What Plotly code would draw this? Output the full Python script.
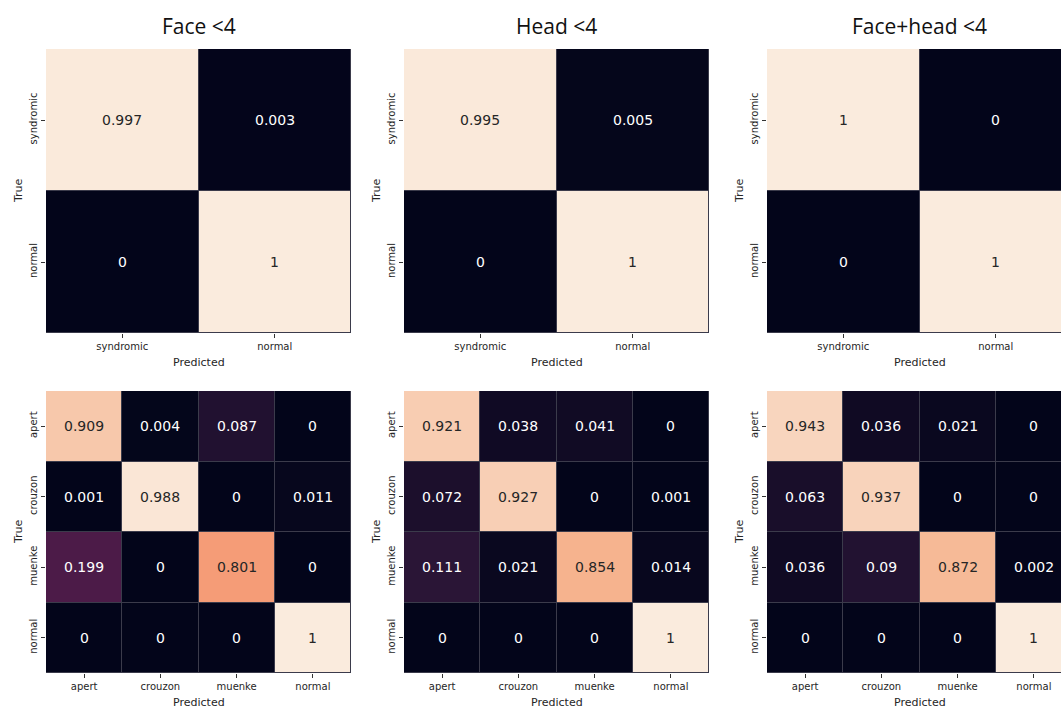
import plotly.graph_objects as go

W, H = 1061, 709

# ---- data -------------------------------------------------------------
titles = ["Face <4", "Head <4", "Face+head <4"]
binary_labels = ["syndromic", "normal"]
multi_labels = ["apert", "crouzon", "muenke", "normal"]

face_binary = [[0.997, 0.003],
               [0, 1]]
head_binary = [[0.995, 0.005],
               [0, 1]]
facehead_binary = [[1, 0],
                   [0, 1]]

face_multi = [[0.909, 0.004, 0.087, 0],
              [0.001, 0.988, 0, 0.011],
              [0.199, 0, 0.801, 0],
              [0, 0, 0, 1]]
head_multi = [[0.921, 0.038, 0.041, 0],
              [0.072, 0.927, 0, 0.001],
              [0.111, 0.021, 0.854, 0.014],
              [0, 0, 0, 1]]
facehead_multi = [[0.943, 0.036, 0.021, 0],
                  [0.063, 0.937, 0, 0],
                  [0.036, 0.09, 0.872, 0.002],
                  [0, 0, 0, 1]]

# seaborn "rocket"-like colour ramp
rocket = [[0.0, "#03051A"], [0.143, "#35193E"], [0.286, "#701F57"],
          [0.429, "#AD1759"], [0.571, "#E13342"], [0.714, "#F37651"],
          [0.857, "#F6B48F"], [1.0, "#FAEBDD"]]

# ---- layout geometry (pixels) ----------------------------------------
col_px = [(46, 351), (404, 709), (767, 1072)]   # last column runs off the page
row_px = [(49, 333), (391, 673)]


def px_x(p):
    return p / W


def px_y(p):
    return 1 - p / H


panels = [
    (0, 0, face_binary, binary_labels),
    (0, 1, head_binary, binary_labels),
    (0, 2, facehead_binary, binary_labels),
    (1, 0, face_multi, multi_labels),
    (1, 1, head_multi, multi_labels),
    (1, 2, facehead_multi, multi_labels),
]

fig = go.Figure()
tick_font = dict(family="DejaVu Sans", size=10, color="#262626")
label_font = dict(family="DejaVu Sans", size=11, color="#262626")
annotations = []

for idx, (r, c, z, labels) in enumerate(panels, start=1):
    n = len(labels)
    xa = "x" if idx == 1 else f"x{idx}"
    ya = "y" if idx == 1 else f"y{idx}"
    fig.add_trace(go.Heatmap(
        z=z, x=list(range(n)), y=list(range(n)),
        colorscale=rocket, zmin=0, zmax=1, showscale=False,
        xgap=1, ygap=1,
        hoverinfo="skip",
        xaxis=xa, yaxis=ya,
    ))

    # cell value labels: dark text on light cells, white on dark cells
    for i in range(n):
        for j in range(n):
            v = z[i][j]
            annotations.append(dict(
                text=f"{v:g}", x=j, y=i, xref=xa, yref=ya, showarrow=False,
                font=dict(family="DejaVu Sans", size=14,
                          color="#262626" if v > 0.6 else "#FFFFFF"),
                xanchor="center", yanchor="middle"))

    x0, x1 = col_px[c]
    y0, y1 = row_px[r]
    vis_x1 = min(x1, W)
    cell_w = (x1 - x0) / n
    x_hi = n - 0.5 - (x1 - vis_x1) / cell_w

    xkey = "xaxis" if idx == 1 else f"xaxis{idx}"
    ykey = "yaxis" if idx == 1 else f"yaxis{idx}"
    fig.update_layout(**{
        xkey: dict(domain=[px_x(x0), px_x(vis_x1)], anchor=ya,
                   range=[-0.5, x_hi], tickvals=list(range(n)), ticktext=labels,
                   ticks="outside", ticklen=4, tickcolor="#333333",
                   showgrid=False, zeroline=False, showline=False,
                   tickfont=tick_font, fixedrange=True),
        ykey: dict(domain=[px_y(y1), px_y(y0)], anchor=xa,
                   range=[n - 0.5, -0.5], tickvals=list(range(n)), ticktext=labels,
                   ticks="outside", ticklen=4, tickcolor="#333333", tickangle=-90,
                   showgrid=False, zeroline=False, showline=False,
                   tickfont=tick_font, fixedrange=True),
    })

    # axis captions
    annotations.append(dict(text="Predicted", x=px_x((x0 + x1) / 2), y=px_y(y1 + 29),
                            xref="paper", yref="paper", showarrow=False,
                            font=label_font, xanchor="center", yanchor="middle"))
    annotations.append(dict(text="True", x=px_x(x0 - 28), y=px_y((y0 + y1) / 2),
                            xref="paper", yref="paper", showarrow=False, textangle=-90,
                            font=label_font, xanchor="center", yanchor="middle"))

# column titles
for c, t in enumerate(titles):
    x0, x1 = col_px[c]
    annotations.append(dict(text=t, x=px_x((x0 + x1) / 2), y=px_y(26),
                            xref="paper", yref="paper", showarrow=False,
                            font=dict(family="Open Sans", size=21, color="#111111"),
                            xanchor="center", yanchor="middle"))

fig.update_layout(
    width=W, height=H,
    margin=dict(l=0, r=0, t=0, b=0),
    paper_bgcolor="white",
    plot_bgcolor="#3b3b4b",
    annotations=annotations,
    showlegend=False,
)

fig.write_html("out.html")
